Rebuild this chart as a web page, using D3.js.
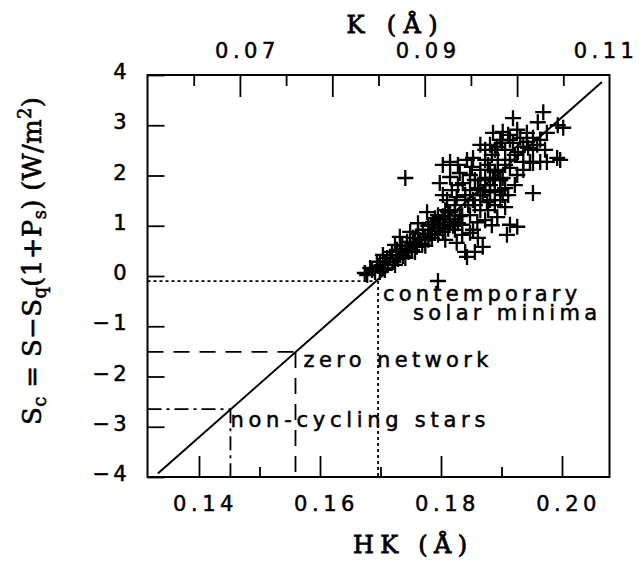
<!DOCTYPE html>
<html>
<head>
<meta charset="utf-8">
<script src="https://cdnjs.cloudflare.com/ajax/libs/d3/7.8.5/d3.min.js"></script>
<style>
  body { margin: 0; background: #fff; }
  svg text { fill: #000; }
</style>
</head>
<body>
<div id="chart"></div>
<script>
// bottom axis (HK, Angstrom)
const hkMajor = [0.14, 0.16, 0.18, 0.20];
const hkMinor = [0.15, 0.17, 0.19];
// top axis (K, Angstrom)
const kMajor = [0.07, 0.08, 0.09, 0.10];
const kMinor = [0.065, 0.075, 0.085, 0.095, 0.105];
const kLabels = [0.07, 0.09, 0.11];
// left axis (Sc, W/m^2)
const scTicks = [4, 3, 2, 1, 0, -1, -2, -3, -4];

// stars: [HK, Sc]
const stars = [
  [0.1678, 0.02], [0.1686, 0.12], [0.1691, 0.08], [0.1696, 0.20], [0.1703, 0.16],
  [0.1707, 0.28], [0.1712, 0.22], [0.1716, 0.36], [0.1721, 0.28], [0.1726, 0.42],
  [0.1729, 0.34], [0.1732, 0.48], [0.1737, 0.40], [0.1741, 0.54], [0.1746, 0.48],
  [0.1749, 0.60], [0.1752, 0.52], [0.1757, 0.66], [0.1760, 0.58], [0.1765, 0.72],
  [0.1769, 0.64], [0.1774, 0.78], [0.1779, 0.72], [0.1782, 0.84], [0.1785, 0.76],
  [0.1790, 0.90], [0.1795, 0.82], [0.1798, 0.96], [0.1803, 0.88], [0.1807, 1.02],
  [0.1812, 0.94], [0.1815, 1.08], [0.1820, 1.00], [0.1823, 1.13], [0.1828, 1.05],
  [0.1831, 1.19], [0.1694, 0.28], [0.1704, 0.42], [0.1732, 0.78], [0.1762, 1.05],
  [0.1777, 1.27], [0.1724, 0.62], [0.1749, 0.88], [0.1790, 1.15], [0.1807, 1.31],
  [0.1699, 0.08], [0.1674, 0.06], [0.1795, -0.10],
  [0.1683, 0.16], [0.1699, 0.28], [0.1711, 0.36], [0.1719, 0.48], [0.1727, 0.52],
  [0.1736, 0.60], [0.1744, 0.68], [0.1754, 0.76], [0.1762, 0.84], [0.1770, 0.92],
  [0.1779, 1.00], [0.1787, 1.07], [0.1795, 1.11], [0.1803, 1.19], [0.1815, 1.27],
  [0.1823, 1.41], [0.1707, 0.12], [0.1724, 0.22], [0.1741, 0.36], [0.1757, 0.48],
  [0.1774, 0.60],
  [0.1803, 1.61], [0.1826, 1.57], [0.1853, 1.51], [0.1876, 1.47], [0.1860, 1.07],
  [0.1803, 2.21], [0.1815, 2.27], [0.1843, 2.31], [0.1853, 2.35], [0.1798, 1.85],
  [0.1815, 1.97], [0.1831, 2.05], [0.1836, 1.85], [0.1865, 2.11], [0.1873, 1.95],
  [0.1881, 1.81], [0.1889, 1.67], [0.1898, 1.51], [0.1906, 1.37], [0.1861, 1.75],
  [0.1869, 1.61], [0.1848, 1.71], [0.1856, 1.91], [0.1878, 2.21], [0.1889, 2.07],
  [0.1898, 1.91], [0.1906, 1.75], [0.1884, 2.41], [0.1894, 2.31], [0.1873, 2.51],
  [0.1865, 1.31], [0.1845, 1.41], [0.1823, 1.31], [0.1835, 1.21], [0.1893, 1.17],
  [0.1914, 1.02], [0.1909, 0.82], [0.1853, 0.92], [0.1848, 0.86], [0.1826, 0.66],
  [0.1840, 0.48], [0.1856, 0.48], [0.1843, 0.38], [0.1869, 0.58], [0.1926, 0.98],
  [0.1952, 1.65], [0.1741, 1.95],
  [0.1840, 1.51], [0.1848, 1.21], [0.1856, 1.41], [0.1865, 1.61], [0.1873, 1.81],
  [0.1881, 1.67], [0.1886, 1.95], [0.1894, 2.11], [0.1902, 1.61], [0.1851, 2.17],
  [0.1828, 2.21], [0.1818, 1.71], [0.1810, 1.51], [0.1873, 1.11], [0.1884, 1.01],
  [0.1861, 0.76], [0.1835, 0.82],
  [0.1865, 2.61], [0.1901, 2.65], [0.1914, 2.71], [0.1942, 2.67], [0.1959, 2.61],
  [0.1936, 2.27], [0.1952, 2.25], [0.1975, 2.27], [0.1992, 2.35], [0.1969, 3.26],
  [0.1919, 3.14], [0.1960, 3.06], [0.1993, 3.00], [0.2002, 2.95], [0.1886, 2.85],
  [0.1902, 2.87], [0.1926, 2.91], [0.1942, 2.85], [0.1952, 2.75], [0.1975, 2.85],
  [0.1898, 2.71], [0.1919, 2.65], [0.1936, 2.57], [0.1952, 2.51], [0.1947, 2.27],
  [0.1964, 2.27], [0.1997, 2.31], [0.1936, 2.11], [0.1926, 2.01], [0.1902, 1.95],
  [0.1873, 2.31], [0.1881, 2.11], [0.1889, 1.91], [0.1873, 1.71], [0.1881, 1.51],
  [0.1865, 1.91], [0.1889, 1.41], [0.1898, 1.71], [0.1878, 1.31], [0.1848, 2.01],
  [0.1840, 1.61], [0.1828, 1.81], [0.1881, 2.61], [0.1889, 2.51], [0.1906, 2.51],
  [0.1914, 2.31], [0.1906, 2.21], [0.1922, 2.41],
  [0.1893, 2.57], [0.1911, 2.81], [0.1931, 2.75], [0.1944, 2.55], [0.1964, 2.71],
  [0.1927, 2.47], [0.1914, 2.15], [0.1922, 1.81], [0.1911, 1.61], [0.1972, 2.51],
  [0.1795, 1.21], [0.1812, 1.27], [0.1823, 0.92], [0.1835, 1.02], [0.1807, 0.72],
  [0.1785, 1.02]
];

// fitted relation, end points [HK, Sc]
const fitLine = [[0.1332, -3.93], [0.2066, 3.86]];

// reference levels on the relation
const levelNames = ["contemporary solar minima", "zero network", "non-cycling stars"];
const levelHK = [0.1696, 0.15595, 0.1452];
const levelSc = [-0.10, -1.51, -2.65];
const levelDash = ["3,3", "16,10", "14,5,3,5"];

const width = 644, height = 562;
const box = {left: 147.5, right: 609.5, top: 75, bottom: 477};

const svg = d3.select("#chart").append("svg")
    .attr("width", width)
    .attr("height", height)
    .style("font-family", "'DejaVu Sans', sans-serif");

const x = d3.scaleLinear().domain([0.13149, 0.20785]).range([box.left, box.right]);
const xK = d3.scaleLinear().domain([0.06, 0.11]).range([box.left, box.right]);
const y = d3.scaleLinear().domain([-4, 4]).range([box.bottom, box.top]);

const tickFont = 21, tickSpacing = "4.5px";

// bottom axis: long ticks with labels, short ticks between
const gB = svg.append("g")
    .attr("transform", `translate(0,${box.bottom})`)
    .call(d3.axisBottom(x).tickValues(hkMajor).tickSize(-21).tickPadding(0)
        .tickFormat(d3.format(".2f")));
gB.selectAll("text")
    .attr("y", 34).attr("dy", 0).attr("dx", 6)
    .attr("font-size", tickFont).style("letter-spacing", tickSpacing);
svg.append("g")
    .attr("transform", `translate(0,${box.bottom})`)
    .call(d3.axisBottom(x).tickValues(hkMinor).tickSize(-10).tickFormat(""));

// top axis
svg.append("g")
    .attr("transform", `translate(0,${box.top})`)
    .call(d3.axisTop(xK).tickValues(kMajor).tickSize(-22).tickFormat(""));
svg.append("g")
    .attr("transform", `translate(0,${box.top})`)
    .call(d3.axisTop(xK).tickValues(kMinor).tickSize(-11).tickFormat(""));
const gT = svg.append("g")
    .attr("transform", `translate(0,${box.top})`)
    .call(d3.axisTop(xK).tickValues(kLabels).tickSize(0).tickFormat(d3.format(".2f")));
gT.selectAll("text")
    .attr("y", -17).attr("dy", 0).attr("dx", (d, i) => [7, 3, -4][i])
    .attr("font-size", tickFont).style("letter-spacing", tickSpacing);

// left axis
const gL = svg.append("g")
    .attr("transform", `translate(${box.left},0)`)
    .call(d3.axisLeft(y).tickValues(scTicks).tickSize(-17).tickPadding(0)
        .tickFormat(d3.format("d")));
gL.selectAll("text")
    .attr("x", -18).attr("dy", 3.5)
    .attr("font-size", tickFont).style("letter-spacing", "3px");

svg.selectAll(".domain").remove();
svg.selectAll(".tick line").attr("stroke", "#000").attr("stroke-width", 1.8);
svg.selectAll(".tick text").attr("fill", "#000")
    .attr("stroke", "#000").attr("stroke-width", 0.5)
    .attr("font-family", "'DejaVu Sans', sans-serif");

// frame
svg.append("rect")
    .attr("x", box.left).attr("y", box.top)
    .attr("width", box.right - box.left).attr("height", box.bottom - box.top)
    .attr("fill", "none").attr("stroke", "#000").attr("stroke-width", 2);

// reference level guides
const levels = levelNames.map((n, i) => ({name: n, hk: levelHK[i], sc: levelSc[i], dash: levelDash[i]}));
levels.forEach(l => {
  svg.append("line")
      .attr("x1", x.range()[0]).attr("y1", y(l.sc))
      .attr("x2", x(l.hk)).attr("y2", y(l.sc))
      .attr("stroke", "#000").attr("stroke-width", 1.8)
      .attr("stroke-dasharray", l.dash);
  svg.append("line")
      .attr("x1", x(l.hk)).attr("y1", y(l.sc))
      .attr("x2", x(l.hk)).attr("y2", y(-4))
      .attr("stroke", "#000").attr("stroke-width", 1.8)
      .attr("stroke-dasharray", l.dash);
});

// fitted line
svg.append("path")
    .datum(fitLine)
    .attr("d", d3.line().x(d => x(d[0])).y(d => y(d[1])))
    .attr("fill", "none").attr("stroke", "#000").attr("stroke-width", 2);

// stars
svg.append("g").selectAll("path")
    .data(stars)
    .join("path")
    .attr("transform", d => `translate(${x(d[0])},${y(d[1])})`)
    .attr("d", "M-8,0H8M0,-8V8")
    .attr("fill", "none").attr("stroke", "#000").attr("stroke-width", 2.3);

// annotation labels
const note = (txt, px, py, len) => svg.append("text")
    .attr("x", px).attr("y", py)
    .attr("font-size", 21)
    .attr("stroke", "#000").attr("stroke-width", 0.5)
    .attr("textLength", len).attr("lengthAdjust", "spacing")
    .text(txt);
note("contemporary", x(levels[0].hk) + 5, y(levels[0].sc) + 20, 194);
note("solar minima", x(levels[0].hk) + 35, y(levels[0].sc) + 39, 184);
note("zero network", x(levels[1].hk) + 8, y(levels[1].sc) + 15, 185);
note("non-cycling stars", x(levels[2].hk), y(levels[2].sc) + 18, 255);

// axis titles
const serif = "'DejaVu Serif', 'Liberation Serif', serif";
svg.append("text")
    .attr("x", 392).attr("y", 33)
    .attr("text-anchor", "middle")
    .attr("font-family", serif).attr("font-size", 24)
    .attr("stroke", "#000").attr("stroke-width", 0.8)
    .attr("textLength", 91).attr("lengthAdjust", "spacing")
    .text("K (Å)");
svg.append("text")
    .attr("x", 410).attr("y", 553)
    .attr("text-anchor", "middle")
    .attr("font-family", serif).attr("font-size", 24)
    .attr("stroke", "#000").attr("stroke-width", 0.8)
    .attr("textLength", 114).attr("lengthAdjust", "spacing")
    .text("HK (Å)");

const yt = svg.append("text")
    .attr("transform", "translate(41,261) rotate(-90)")
    .attr("text-anchor", "middle")
    .attr("font-family", serif).attr("font-size", 26)
    .attr("stroke", "#000").attr("stroke-width", 0.6)
    .attr("textLength", 328).attr("lengthAdjust", "spacing");
yt.append("tspan").text("S");
yt.append("tspan").attr("font-size", 18).attr("dy", 5).text("c");
yt.append("tspan").attr("dy", -5).text(" = S−S");
yt.append("tspan").attr("font-size", 18).attr("dy", 5).text("q");
yt.append("tspan").attr("dy", -5).text("(1+P");
yt.append("tspan").attr("font-size", 18).attr("dy", 5).text("s");
yt.append("tspan").attr("dy", -5).text(") (W/m");
yt.append("tspan").attr("font-size", 18).attr("dy", -10).text("2");
yt.append("tspan").attr("dy", 10).text(")");
</script>
</body>
</html>
